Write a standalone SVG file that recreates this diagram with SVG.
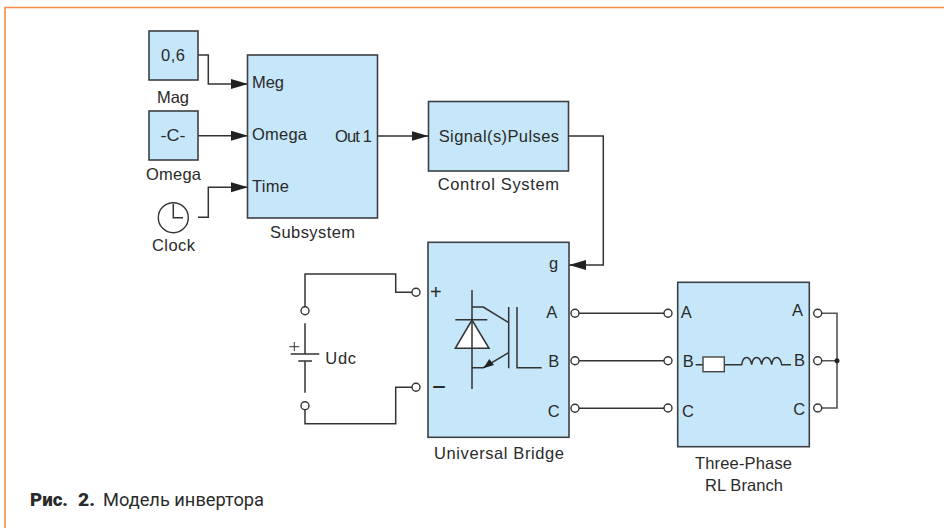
<svg xmlns="http://www.w3.org/2000/svg" width="944" height="528" viewBox="0 0 944 528">
<style>
text{font-family:"Liberation Sans",Arial,sans-serif;font-size:16.500px;fill:#2a2a2a}
.b{fill:#c6e7f9;stroke:#3c4043;stroke-width:1.6}
.w{fill:none;stroke:#333;stroke-width:1.5}
.p{fill:#fff;stroke:#333;stroke-width:1.4}
.m{text-anchor:middle}
.e{text-anchor:end}
.c{font-family:Roboto,"Liberation Sans",sans-serif;font-size:19px}
</style>
<defs>
<marker id="a" markerUnits="userSpaceOnUse" markerWidth="18" markerHeight="12" refX="17" refY="5" orient="auto"><path d="M0 0L17 5L0 10Z" fill="#222"/></marker>
</defs>
<rect width="944" height="528" fill="#fff"/>
<path d="M5 528V7.500H944" fill="none" stroke="#f58a45" stroke-width="1.6"/>
<g id="connectors">
<path class="w" d="M198 55H208.300V84H248" marker-end="url(#a)"/>
<path class="w" d="M198 135.700H248" marker-end="url(#a)"/>
<path class="w" d="M198 217.300H208.300V187.300H248" marker-end="url(#a)"/>
<path class="w" d="M378 136H428.500" marker-end="url(#a)"/>
<path class="w" d="M568 136H603.300V265H569" marker-end="url(#a)"/>
<path class="w" d="M412 292.300H395.700V274H305V307"/>
<path class="w" d="M412 387.300H395.700V423.700H305V410"/>
<path class="w" d="M579 313.300H664"/>
<path class="w" d="M579 360.700H664"/>
<path class="w" d="M579 408.300H664"/>
<path d="M822 313.300H837V408H822M822 360.700H837" fill="none" stroke="#555" stroke-width="1.6"/>
<circle cx="837" cy="360.700" r="2.500" fill="#222"/>
</g>
<g id="mag"><rect class="b" x="149" y="31" width="49" height="49"/><text class="m" x="173" y="61" textLength="24">0,6</text><text class="m" x="173" y="102.700" textLength="32">Mag</text></g>
<g id="omega"><rect class="b" x="149" y="111" width="49" height="49"/><text class="m" x="173" y="141" style="font-size:17px" textLength="25" lengthAdjust="spacingAndGlyphs">-C-</text><text class="m" x="173.500" y="180" textLength="55">Omega</text></g>
<g id="clock"><circle cx="173.300" cy="217.700" r="15" fill="#fff" stroke="#333" stroke-width="1.4"/><path class="w" d="M173.300 204V217.700H183"/><text class="m" x="173.500" y="250.700" textLength="43">Clock</text></g>
<g id="subsystem"><rect class="b" x="247.500" y="55" width="130" height="163"/><text x="252" y="87.700" textLength="32">Meg</text><text x="252" y="140" textLength="55">Omega</text><text x="252" y="191.700" textLength="37">Time</text><text x="335" y="142" textLength="37">Out 1</text><text x="270" y="237.700" textLength="85">Subsystem</text></g>
<g id="control"><rect class="b" x="428.500" y="101.500" width="140" height="69.500"/><text x="438.700" y="142.300" textLength="120.300">Signal(s)Pulses</text><text x="437.700" y="190" textLength="121.300">Control System</text></g>
<g id="bridge"><rect class="b" x="428" y="242.300" width="141" height="195"/>
<path class="w" d="M472 290V389M472 307H483.300L508.700 322.700M508.700 307V368.300M517 307V367.700H541.700M508.700 352.700L483.300 367.700H472M455.300 319.700H487.300"/>
<path d="M472 320L455.300 348.300H489Z" fill="#fff" stroke="#333" stroke-width="1.500"/>
<path d="M472 320V348.300" class="w"/>
<path d="M483.300 368.300L494 365L489.300 359Z" fill="#222"/>
<text x="430" y="298.500" style="font-size:20px">+</text>
<text x="432.500" y="392" style="font-size:20px;font-weight:700" textLength="13" lengthAdjust="spacingAndGlyphs">–</text>
<text x="549" y="269" textLength="9.500">g</text><text x="546.300" y="317.700" textLength="12">A</text><text x="548.300" y="367.300" textLength="10">B</text><text x="547.700" y="416.700" textLength="10.600">C</text>
<text x="434" y="459" textLength="130">Universal Bridge</text></g>
<g id="udc"><path class="w" d="M305 323.300V354M305 361V392.700M290.700 354H319.300M298.300 361H312"/><path d="M289.300 346.700H299.300M294.300 342V351" fill="none" stroke="#333" stroke-width="1"/><text x="325.300" y="364.300" textLength="30.700">Udc</text></g>
<g id="rl"><rect class="b" x="677.700" y="282.300" width="131.600" height="164.400"/>
<text x="680.700" y="317.700" textLength="12">A</text><text x="682.700" y="367" textLength="10.600">B</text><text x="682" y="416.700" textLength="10.700">C</text><text x="792" y="315.700" textLength="12">A</text><text x="794" y="365.700" textLength="10">B</text><text x="793.300" y="415" textLength="10.700">C</text>
<path class="w" d="M695.700 364.700H703M724.300 364.700H741.700C743 355 750 355 751.700 364.700C753 355 760 355 761.700 364.700C763 355 770 355 771.700 364.700C773 355 780 355 781.700 364.700H791"/>
<rect x="703" y="357" width="21.300" height="14.700" fill="#fff" stroke="#444" stroke-width="1.4"/>
<text x="695" y="469" textLength="97">Three-Phase</text><text x="705" y="491" textLength="78">RL Branch</text></g>
<g id="ports">
<circle class="p" cx="416" cy="292.300" r="4"/><circle class="p" cx="416" cy="387.300" r="4"/><circle class="p" cx="305" cy="310.700" r="4"/><circle class="p" cx="305" cy="405.700" r="4"/>
<circle class="p" cx="575" cy="313.300" r="4"/><circle class="p" cx="575" cy="360.700" r="4"/><circle class="p" cx="575" cy="408.300" r="4"/>
<circle class="p" cx="668" cy="313.300" r="4"/><circle class="p" cx="668" cy="360.700" r="4"/><circle class="p" cx="668" cy="408" r="4"/>
<circle class="p" cx="817.700" cy="313.300" r="4"/><circle class="p" cx="817.700" cy="360.700" r="4"/><circle class="p" cx="817.700" cy="408" r="4"/>
</g>
<g id="caption"><text class="c" x="30" y="505.500" style="font-weight:900" textLength="38" lengthAdjust="spacingAndGlyphs">Рис.</text><text class="c" x="78" y="505.500" style="font-weight:900" textLength="17" lengthAdjust="spacingAndGlyphs">2.</text><text class="c" x="103" y="505.500" textLength="161" lengthAdjust="spacingAndGlyphs">Модель инвертора</text></g>
</svg>
